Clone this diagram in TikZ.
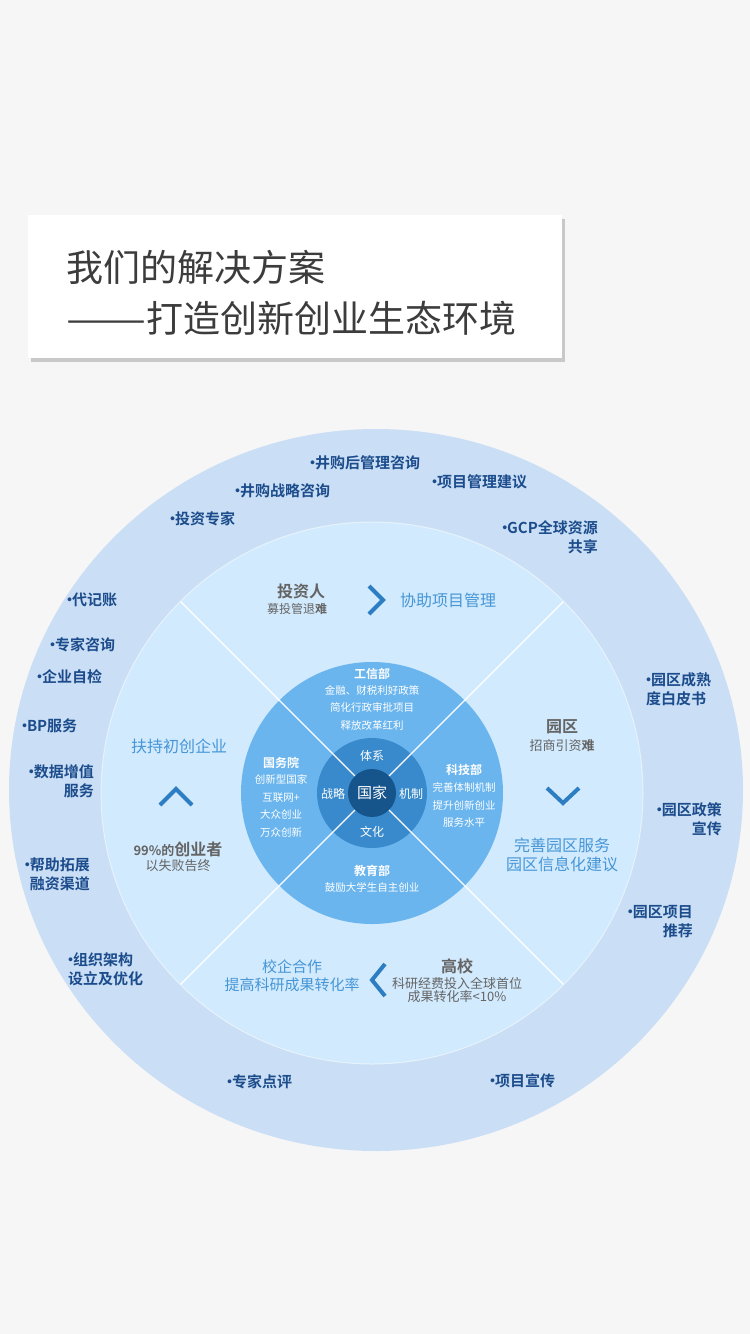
\documentclass[tikz,border=0pt]{standalone}
\usepackage{fontspec}
\usepackage{graphicx}
\setmainfont{Noto Sans CJK SC}[BoldFont={Noto Sans CJK SC Bold}]
\newcommand{\bdot}{\makebox[0.32em]{·}}
\definecolor{bgcol}{RGB}{246,246,246}
\definecolor{outerring}{RGB}{202,223,245}
\definecolor{middisc}{RGB}{210,234,253}
\definecolor{innerdisc}{RGB}{106,181,238}
\definecolor{darkring}{RGB}{56,138,204}
\definecolor{centercol}{RGB}{22,84,140}
\definecolor{outertext}{RGB}{28,76,140}
\definecolor{midtext}{RGB}{70,150,215}
\definecolor{chevcol}{RGB}{45,125,195}
\definecolor{graytext}{RGB}{100,100,100}
\definecolor{titletext}{RGB}{60,60,60}
\definecolor{shadowcol}{RGB}{200,200,200}
\tikzset{
  outer/.style={font=\bfseries\fontsize{15}{19}\selectfont, text=outertext, inner sep=0pt},
  midblue/.style={font=\fontsize{16}{18.5}\selectfont, text=midtext, inner sep=0pt, align=center},
  grayhead/.style={font=\bfseries\fontsize{16}{18}\selectfont, text=graytext, inner sep=0pt},
  graysub/.style={font=\fontsize{13}{13.5}\selectfont, text=graytext, inner sep=0pt, align=center},
  innerhead/.style={font=\bfseries\fontsize{12}{14}\selectfont, text=white, inner sep=0pt},
  innersub/.style={font=\fontsize{10.5}{17.5}\selectfont, text=white, inner sep=0pt, align=center},
  ringtxt/.style={font=\fontsize{12}{14}\selectfont, text=white, inner sep=0pt},
  chev/.style={draw=chevcol, line width=4pt, line join=miter},
  titletxt/.style={font=\fontsize{37}{40}\selectfont, text=titletext, inner sep=0pt, anchor=west},
}
\begin{document}
\begin{tikzpicture}[x=1pt,y=-1pt]
\useasboundingbox (0,0) rectangle (750,1334);
\fill[bgcol] (0,0) rectangle (750,1334);
% title box
\fill[shadowcol] (31,219) rectangle (565,362);
\fill[white] (28,215) rectangle (562,358);
\node[titletxt] (t1) at (66,267) {我们的解决方案};
\node[titletxt] (t2) at (66,318) {\scalebox{1.29}[1]{——}打造创新创业生态环境};
% circles
\coordinate (c) at (372,793);
\fill[outerring] (376,790) ellipse [x radius=367pt, y radius=361pt];
\fill[middisc] (c) circle [radius=271pt];
\draw[white, opacity=0.5, line width=1pt] (c) circle [radius=271pt];
\fill[innerdisc] (c) circle [radius=131pt];
\fill[darkring] (c) circle [radius=55pt];
\coordinate (d1) at (180.4,601.4);
\coordinate (d2) at (563.6,601.4);
\coordinate (d3) at (180.4,984.6);
\coordinate (d4) at (563.6,984.6);
\draw[white, line width=1.3pt] (d1) -- (d4);
\draw[white, line width=1.3pt] (d2) -- (d3);
\fill[centercol] (c) circle [radius=24pt];
% center texts
\node[font=\fontsize{15}{17}\selectfont, text=white, inner sep=0pt] (guojia) at (c) {国家};
\node[ringtxt] (r1) at (372,756) {体系};
\node[ringtxt] (r2) at (333,794) {战略};
\node[ringtxt] (r3) at (411,794) {机制};
\node[ringtxt] (r4) at (372,832) {文化};
% inner disc texts
\node[innerhead] (i1h) at (372,674) {工信部};
\node[innersub] (i1s) at (372,707.5) {金融、财税利好政策\\简化行政审批项目\\释放改革红利};
\node[innerhead] (i2h) at (281,763) {国务院};
\node[innersub] (i2s) at (281,806) {创新型国家\\互联网+\\大众创业\\万众创新};
\node[innerhead] (i3h) at (464,770) {科技部};
\node[innersub] (i3s) at (464,805) {完善体制机制\\提升创新创业\\服务水平};
\node[innerhead] (i4h) at (372,871) {教育部};
\node[innersub] (i4s) at (372,887) {鼓励大学生自主创业};
% middle ring: top
\node[grayhead] (m1h) at (301,591) {投资人};
\node[graysub, font=\fontsize{12}{13}\selectfont] (m1s) at (297,609) {募投管退{\bfseries 难}};
\coordinate (ca1) at (369,586);
\coordinate (ca2) at (383,600);
\coordinate (ca3) at (369,614);
\draw[chev] (ca1) -- (ca2) -- (ca3);
\node[midblue] (m2) at (448,600) {协助项目管理};
% left
\node[midblue] (m3) at (179,746) {扶持初创企业};
\coordinate (cb1) at (160,805);
\coordinate (cb2) at (176,789);
\coordinate (cb3) at (192,805);
\draw[chev] (cb1) -- (cb2) -- (cb3);
\node[inner sep=0pt, text=graytext] (m4h) at (178,849) {{\bfseries\fontsize{13}{14}\selectfont 99\%的}{\bfseries\fontsize{16}{18}\selectfont 创业者}};
\node[graysub] (m4s) at (178,866) {以失败告终};
% right
\node[grayhead] (m5h) at (562,727) {园区};
\node[graysub] (m5s) at (562,746) {招商引资{\bfseries 难}};
\coordinate (cc1) at (547,788);
\coordinate (cc2) at (563,803);
\coordinate (cc3) at (579,788);
\draw[chev] (cc1) -- (cc2) -- (cc3);
\node[midblue] (m6) at (562,855) {完善园区服务\\园区信息化建议};
% bottom
\node[midblue, font=\fontsize{15}{18}\selectfont] (m7) at (292,976) {校企合作\\提高科研成果转化率};
\coordinate (cd1) at (385,964);
\coordinate (cd2) at (372,980);
\coordinate (cd3) at (385,996);
\draw[chev] (cd1) -- (cd2) -- (cd3);
\node[grayhead] (m8h) at (457,966) {高校};
\node[graysub] (m8s) at (457,990) {科研经费投入全球首位\\成果转化率<10\%};
% outer ring labels
\node[outer, anchor=west] (o1) at (310,463) {\bdot 井购后管理咨询};
\node[outer, anchor=west] (o2) at (432,482) {\bdot 项目管理建议};
\node[outer, anchor=west] (o3) at (235,491) {\bdot 井购战略咨询};
\node[outer, anchor=west] (o4) at (170,519) {\bdot 投资专家};
\node[outer, anchor=east, align=right] (o5) at (598,537.5) {\bdot GCP全球资源\\共享};
\node[outer, anchor=west] (o6) at (67,600) {\bdot 代记账};
\node[outer, anchor=west] (o7) at (50,645) {\bdot 专家咨询};
\node[outer, anchor=west] (o8) at (37,677) {\bdot 企业自检};
\node[outer, anchor=west] (o9) at (22,726) {\bdot BP服务};
\node[outer, anchor=east, align=right] (o10) at (94,781) {\bdot 数据增值\\服务};
\node[outer, anchor=east, align=right] (o11) at (90,874) {\bdot 帮助拓展\\融资渠道};
\node[outer, anchor=west, align=left] (o12) at (68,969) {\bdot 组织架构\\设立及优化};
\node[outer, anchor=west] (o13) at (227,1082) {\bdot 专家点评};
\node[outer, anchor=west] (o14) at (490,1081) {\bdot 项目宣传};
\node[outer, anchor=west, align=left] (o15) at (646,689) {\bdot 园区成熟\\度白皮书};
\node[outer, anchor=east, align=right] (o16) at (722,819) {\bdot 园区政策\\宣传};
\node[outer, anchor=east, align=right] (o17) at (693,922) {\bdot 园区项目\\推荐};
\end{tikzpicture}
\end{document}
